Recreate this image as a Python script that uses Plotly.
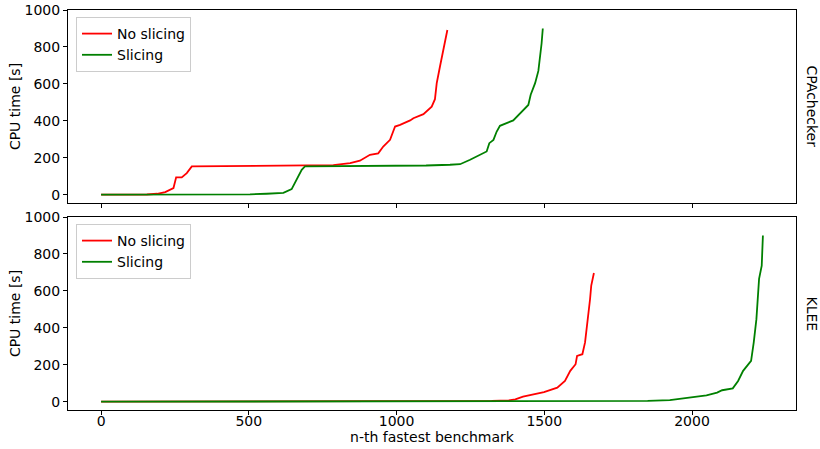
import plotly.graph_objects as go

# CPAchecker panel
cpa_noslice_x = [0, 100, 155, 190, 217, 245, 254, 273, 290, 307, 400, 500, 600, 700, 786, 843, 876, 910, 938, 955, 978, 995, 1012, 1046, 1057, 1091, 1119, 1130, 1136, 1147, 1158, 1165, 1172]
cpa_noslice_y = [0, 0, 1, 5, 14, 36, 94, 94, 117, 153, 154, 155, 156, 157, 160, 171, 184, 216, 224, 261, 297, 369, 378, 402, 414, 436, 477, 517, 604, 694, 784, 830, 892]
cpa_slice_x = [0, 200, 400, 504, 560, 617, 645, 662, 679, 690, 800, 900, 1000, 1100, 1181, 1215, 1249, 1283, 1305, 1314, 1328, 1339, 1350, 1395, 1418, 1446, 1454, 1469, 1480, 1486, 1491, 1495]
cpa_slice_y = [0, 0, 1, 2, 5, 10, 30, 81, 135, 153, 154, 155, 156, 158, 162, 165, 189, 216, 234, 279, 297, 342, 373, 402, 441, 486, 541, 604, 670, 748, 820, 900]

# KLEE panel
klee_noslice_x = [0, 300, 600, 900, 1100, 1250, 1322, 1380, 1402, 1428, 1499, 1544, 1570, 1588, 1606, 1611, 1629, 1638, 1645, 1655, 1659, 1668]
klee_noslice_y = [0, 0, 0, 0, 1, 2, 4, 7, 12, 27, 52, 76, 112, 167, 203, 248, 257, 321, 411, 556, 629, 697]
klee_slice_x = [0, 400, 800, 1200, 1500, 1783, 1850, 1925, 1996, 2049, 2085, 2102, 2138, 2156, 2173, 2191, 2200, 2209, 2218, 2227, 2236, 2240]
klee_slice_y = [0, 0, 0, 0, 1, 2, 4, 9, 22, 34, 49, 62, 72, 112, 167, 203, 221, 321, 447, 665, 737, 900]

x_ticks = [0, 500, 1000, 1500, 2000]
y_ticks = [0, 200, 400, 600, 800, 1000]
panel_labels = ["CPAchecker", "KLEE"]
series_names = ["No slicing", "Slicing"]
series_colors = ["#ff0000", "#008000"]

FONT = "DejaVu Sans"
FS = 14
fig = go.Figure()

fig.add_trace(go.Scatter(x=cpa_noslice_x, y=cpa_noslice_y, mode="lines", name=series_names[0],
                         line=dict(color=series_colors[0], width=1.8), xaxis="x", yaxis="y", legend="legend"))
fig.add_trace(go.Scatter(x=cpa_slice_x, y=cpa_slice_y, mode="lines", name=series_names[1],
                         line=dict(color=series_colors[1], width=1.8), xaxis="x", yaxis="y", legend="legend"))
fig.add_trace(go.Scatter(x=klee_noslice_x, y=klee_noslice_y, mode="lines", name=series_names[0],
                         line=dict(color=series_colors[0], width=1.8), xaxis="x2", yaxis="y2", legend="legend2"))
fig.add_trace(go.Scatter(x=klee_slice_x, y=klee_slice_y, mode="lines", name=series_names[1],
                         line=dict(color=series_colors[1], width=1.8), xaxis="x2", yaxis="y2", legend="legend2"))

axis_common = dict(showline=True, mirror=True, linecolor="#000000", linewidth=1,
                   ticks="outside", ticklen=4, tickcolor="#000000", showgrid=False, zeroline=False,
                   automargin=True, ticklabeloverflow="allow",
                   tickfont=dict(family=FONT, size=FS, color="#000000"))

legend_common = dict(xanchor="left", yanchor="top", bgcolor="white",
                     bordercolor="#cccccc", borderwidth=1, font=dict(family=FONT, size=FS),
                     tracegroupgap=0, itemwidth=30)

fig.update_layout(
    width=820, height=449,
    margin=dict(l=68, r=24, t=10, b=39, autoexpand=False),
    paper_bgcolor="white", plot_bgcolor="white",
    font=dict(family=FONT, size=FS, color="#000000"),
    xaxis=dict(domain=[0, 1], anchor="y", range=[-112, 2352], tickvals=x_ticks,
               showticklabels=False, matches="x2", **axis_common),
    yaxis=dict(domain=[0.5175, 1], anchor="x", range=[-45, 1000], tickvals=y_ticks,
               title=dict(text="CPU time [s]", font=dict(family=FONT, size=FS), standoff=0), **axis_common),
    xaxis2=dict(domain=[0, 1], anchor="y2", range=[-112, 2352], tickvals=x_ticks, ticklabelstandoff=-6,
                title=dict(text="n-th fastest benchmark", font=dict(family=FONT, size=FS), standoff=2), **axis_common),
    yaxis2=dict(domain=[0, 0.4825], anchor="x2", range=[-45, 1000], tickvals=y_ticks,
                title=dict(text="CPU time [s]", font=dict(family=FONT, size=FS), standoff=0), **axis_common),
    legend=dict(x=0.011, y=0.9825, **legend_common),
    legend2=dict(x=0.011, y=0.465, **legend_common),
    annotations=[
        dict(text=panel_labels[0], xref="paper", yref="paper", x=1.0, y=0.7588, xanchor="center",
             yanchor="middle", xshift=16, textangle=90, showarrow=False, font=dict(family=FONT, size=FS)),
        dict(text=panel_labels[1], xref="paper", yref="paper", x=1.0, y=0.2412, xanchor="center",
             yanchor="middle", xshift=16, textangle=90, showarrow=False, font=dict(family=FONT, size=FS)),
    ],
)

# remove the browser's default 8px page margin so the figure fills the window exactly
fig.write_html("out.html", config={"displayModeBar": False},
               post_script="document.body.style.margin='0';")
